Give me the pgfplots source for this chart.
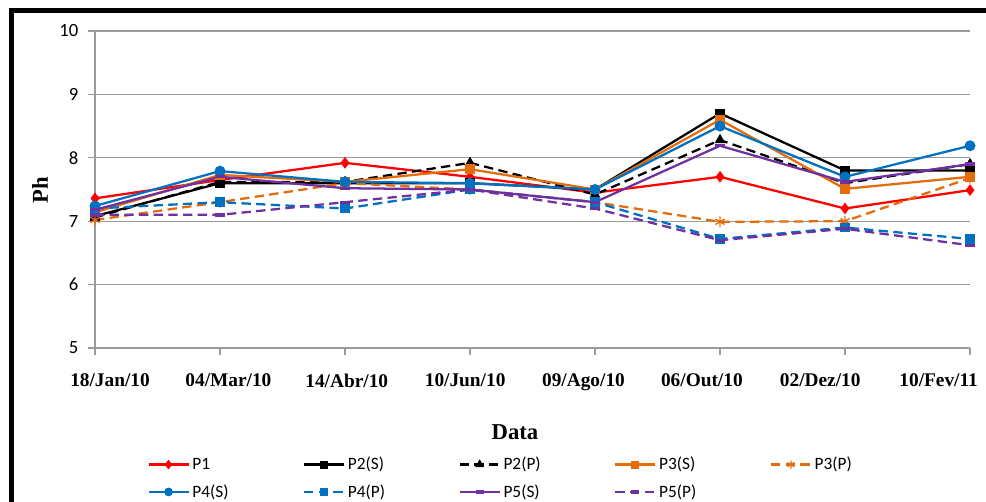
\documentclass[border=0pt]{standalone}
\usepackage{fontspec}
\setmainfont{Carlito}
\newfontfamily\tnr{Liberation Serif}
\usepackage{pgfplots}
\pgfplotsset{compat=1.18}
\definecolor{cOr}{RGB}{228,108,10}
\definecolor{cBl}{RGB}{0,112,192}
\definecolor{cPu}{RGB}{112,48,160}
\definecolor{cGr}{RGB}{155,155,155}
\begin{document}
\begin{tikzpicture}[x=0.75pt,y=0.75pt]
\useasboundingbox (0,0) rectangle (986,502);
\draw[line width=3.4pt, line join=miter, line cap=rect] (11.5,0) -- (11.5,491.5) -- (986,491.5);
\begin{axis}[
  at={(71.25pt,115.5pt)}, anchor=south west,
  scale only axis, width=656.25pt, height=237.75pt,
  xmin=0, xmax=7, ymin=5, ymax=10,
  axis lines*=left,
  axis line style={cGr, line width=0.8pt},
  every axis plot/.append style={line width=1.7pt},
  ytick={5,6,7,8,9,10},
  ymajorgrids, grid style={cGr, line width=0.8pt},
  xtick={0,1,2,3,4,5,6,7}, xticklabels={},
  tick align=outside,
  major tick style={cGr, line width=0.8pt},
  major tick length=5pt,
  /pgf/number format/assume math mode=true,
  yticklabel style={font=\fontsize{14}{15}\selectfont, xshift=-4pt},
  extra x ticks={0.12,1.067,2.014,2.961,3.908,4.855,5.802,6.749},
  extra x tick labels={18/Jan/10,04/Mar/10,14/Abr/10,10/Jun/10,09/Ago/10,06/Out/10,02/Dez/10,10/Fev/11},
  extra x tick style={major tick length=0pt, grid=none, xticklabel style={font=\tnr\bfseries\fontsize{14.5}{15}\selectfont, yshift=-16pt}},
  legend columns=5,
  legend style={draw=none, fill=none, at={(axis description cs:0.055,-0.327)}, anchor=north west,
    font=\fontsize{13}{14}\selectfont, row sep=5.5pt,
    /tikz/every even column/.append style={column sep=0pt}},
  legend cell align=left,
  legend image code/.code={\draw[#1, mark repeat=2, mark phase=2, every mark/.append style={scale=0.75}] plot coordinates {(0pt,0pt)(15pt,0pt)(30pt,0pt)};},
  clip=false,
]
% P1
\addplot[red, mark=diamond*, mark size=3pt] coordinates {(0,7.36)(1,7.65)(2,7.92)(3,7.70)(4,7.45)(5,7.70)(6,7.20)(7,7.49)};
\addlegendentry{\makebox[81pt][l]{P1}}
% P2(S)
\addplot[black, mark=square*, mark size=2.8pt] coordinates {(0,7.08)(1,7.60)(2,7.60)(3,7.60)(4,7.50)(5,8.70)(6,7.80)(7,7.80)};
\addlegendentry{\makebox[81pt][l]{P2(S)}}
% P2(P)
\addplot[black, dash pattern=on 7pt off 4pt, mark=triangle*, mark size=3pt, mark options={solid}] coordinates {(0,7.06)(1,7.62)(2,7.62)(3,7.92)(4,7.42)(5,8.28)(6,7.60)(7,7.90)};
\addlegendentry{\makebox[81pt][l]{P2(P)}}
% P3(S)
\addplot[cOr, mark=square*, mark size=2.8pt] coordinates {(0,7.14)(1,7.73)(2,7.62)(3,7.82)(4,7.50)(5,8.60)(6,7.51)(7,7.70)};
\addlegendentry{\makebox[81pt][l]{P3(S)}}
% P3(P)
\addplot[cOr, dash pattern=on 7pt off 4pt, mark=asterisk, mark size=4pt, mark options={solid, line width=1pt}] coordinates {(0,7.02)(1,7.30)(2,7.60)(3,7.50)(4,7.30)(5,6.99)(6,7.00)(7,7.68)};
\addlegendentry{\makebox[81pt][l]{P3(P)}}
% P4(S)
\addplot[cBl, mark=*, mark size=3.2pt] coordinates {(0,7.24)(1,7.79)(2,7.62)(3,7.60)(4,7.50)(5,8.50)(6,7.70)(7,8.19)};
\addlegendentry{\makebox[81pt][l]{P4(S)}}
% P4(P)
\addplot[cBl, dash pattern=on 7pt off 4pt, mark=square*, mark size=2.8pt, mark options={solid}] coordinates {(0,7.20)(1,7.30)(2,7.20)(3,7.50)(4,7.30)(5,6.72)(6,6.90)(7,6.72)};
\addlegendentry{\makebox[81pt][l]{P4(P)}}
% P5(S)
\addplot[cPu, mark=-, mark size=4pt, mark options={line width=2.5pt}] coordinates {(0,7.18)(1,7.70)(2,7.52)(3,7.50)(4,7.30)(5,8.19)(6,7.62)(7,7.90)};
\addlegendentry{\makebox[81pt][l]{P5(S)}}
% P5(P)
\addplot[cPu, dash pattern=on 7pt off 4pt, mark=-, mark size=4pt, mark options={solid, line width=2.5pt}] coordinates {(0,7.10)(1,7.10)(2,7.30)(3,7.50)(4,7.20)(5,6.70)(6,6.88)(7,6.62)};
\addlegendentry{\makebox[81pt][l]{P5(P)}}
\end{axis}
\node[rotate=90, font=\tnr\bfseries\fontsize{17}{18}\selectfont] at (40,312) {Ph};
\node[font=\tnr\bfseries\fontsize{17}{18}\selectfont] at (515,70) {Data};
\end{tikzpicture}
\end{document}
